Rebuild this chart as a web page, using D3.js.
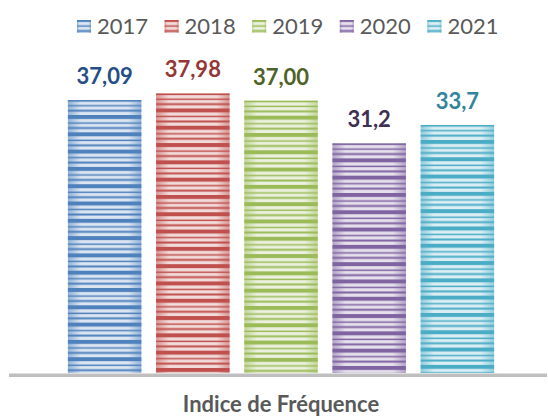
<!DOCTYPE html>
<html>
<head>
<meta charset="utf-8">
<script src="https://cdn.jsdelivr.net/npm/d3@7"></script>
<style>
  body { margin: 0; background: #fff; }
  svg { display: block; font-family: Lato, "Open Sans", sans-serif; }
</style>
</head>
<body>
<div class="chart"></div>
<script>
// data
var years = ["2017", "2018", "2019", "2020", "2021"];
var values = [37.09, 37.98, 37.00, 31.2, 33.7];
var valueLabels = ["37,09", "37,98", "37,00", "31,2", "33,7"];
var axisTitle = "Indice de Fréquence";

var barColors = ["#4f81bd", "#c0504d", "#9bbb59", "#8064a2", "#4bacc6"];
var labelColors = ["#254e86", "#953735", "#4f6228", "#3f3151", "#31859c"];

var width = 548, height = 417;

var svg = d3.select(".chart")
    .append("svg")
    .attr("width", width)
    .attr("height", height);

var defs = svg.append("defs");

var x = d3.scaleBand()
    .domain(years)
    .range([60.4, 501.6])
    .paddingInner(0.167)
    .paddingOuter(0.085);

var y = d3.scaleLinear()
    .domain([0, 40])
    .range([373, 78.6]);

// stripe layout inside one pattern period (offset, thickness)
var stripes = [[0, 4], [7.3, 1.5], [12, 2]];
var period = 17.3;

function makeGradient(id, color) {
    var g = defs.append("linearGradient")
        .attr("id", id)
        .attr("x1", 0).attr("x2", 1).attr("y1", 0).attr("y2", 0);
    var edge = d3.interpolateRgb(color, "#fff")(0.4);
    var mid = d3.interpolateRgb(color, "#fff")(0.8);
    g.append("stop").attr("offset", "0%").attr("stop-color", edge);
    g.append("stop").attr("offset", "18%").attr("stop-color", mid);
    g.append("stop").attr("offset", "82%").attr("stop-color", mid);
    g.append("stop").attr("offset", "100%").attr("stop-color", edge);
}

function makePattern(id, color, y0) {
    var p = defs.append("pattern")
        .attr("id", id)
        .attr("patternUnits", "userSpaceOnUse")
        .attr("x", 0).attr("y", y0)
        .attr("width", 10).attr("height", period);
    stripes.forEach(function (s) {
        p.append("rect")
            .attr("x", 0).attr("y", s[0])
            .attr("width", 10).attr("height", s[1])
            .attr("fill", color);
    });
}

years.forEach(function (yr, i) {
    makeGradient("grad-" + i, barColors[i]);
    makePattern("pat-" + i, barColors[i], y(values[i]) - 2.3);
    makePattern("lpat-" + i, barColors[i], 18);
});

// axis line
svg.append("line")
    .attr("x1", 9).attr("x2", 547)
    .attr("y1", 375.2).attr("y2", 375.2)
    .attr("stroke", "#bfbfbf")
    .attr("stroke-width", 3.6);

// bars
var bars = svg.selectAll(".bar")
    .data(values)
    .enter()
    .append("g")
    .attr("class", "bar");

bars.append("rect")
    .attr("x", function (d, i) { return x(years[i]); })
    .attr("y", function (d) { return y(d); })
    .attr("width", x.bandwidth())
    .attr("height", function (d) { return y(0) - y(d); })
    .attr("fill", function (d, i) { return "url(#grad-" + i + ")"; });

bars.append("rect")
    .attr("x", function (d, i) { return x(years[i]); })
    .attr("y", function (d) { return y(d); })
    .attr("width", x.bandwidth())
    .attr("height", function (d) { return y(0) - y(d); })
    .attr("fill", function (d, i) { return "url(#pat-" + i + ")"; });

// value labels
bars.append("text")
    .attr("x", function (d, i) { return x(years[i]) + x.bandwidth() / 2; })
    .attr("y", function (d) { return y(d) - 16; })
    .attr("text-anchor", "middle")
    .attr("fill", function (d, i) { return labelColors[i]; })
    .style("font-size", "22px")
    .style("font-weight", "bold")
    .text(function (d, i) { return valueLabels[i]; });

// legend
var legend = svg.selectAll(".legend")
    .data(years)
    .enter()
    .append("g")
    .attr("class", "legend")
    .attr("transform", function (d, i) { return "translate(" + (77 + i * 87.6) + ",0)"; });

legend.append("rect")
    .attr("x", 0).attr("y", 20)
    .attr("width", 14).attr("height", 13)
    .attr("fill", function (d, i) { return "url(#grad-" + i + ")"; });

legend.append("rect")
    .attr("x", 0).attr("y", 20)
    .attr("width", 14).attr("height", 13)
    .attr("fill", function (d, i) { return "url(#lpat-" + i + ")"; });

legend.append("text")
    .attr("x", 20)
    .attr("y", 34)
    .attr("fill", "#595959")
    .style("font-size", "22px")
    .text(function (d) { return d; });

// axis title
svg.append("text")
    .attr("x", 281)
    .attr("y", 411.5)
    .attr("text-anchor", "middle")
    .attr("fill", "#595959")
    .style("font-size", "22px")
    .style("font-weight", "bold")
    .text(axisTitle);
</script>
</body>
</html>
